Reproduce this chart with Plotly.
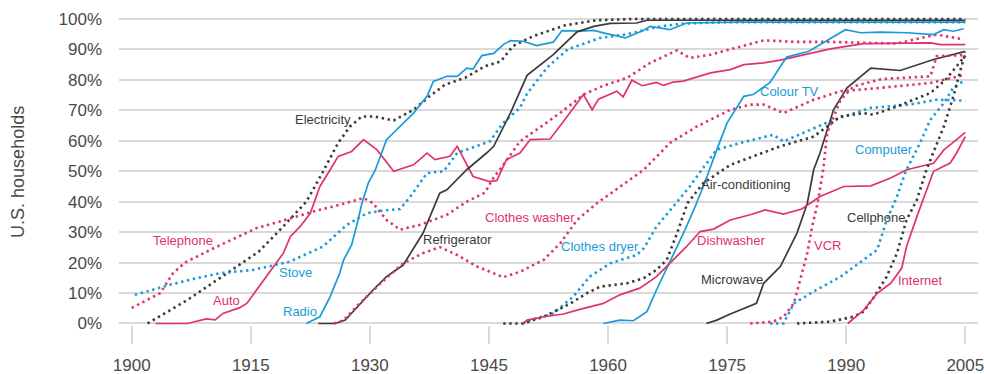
import plotly.graph_objects as go

# ---- adoption data: share of U.S. households (%) by year ----
electricity_years = [1902, 1907, 1912, 1916, 1918.7, 1921, 1922, 1924, 1926, 1927.5, 1929, 1930.5, 1933, 1935.5, 1937.5, 1939.5, 1942, 1944.5, 1946.5, 1948, 1950.5, 1954.5, 1958.5, 1963, 2005]
electricity_vals = [0, 7.7, 16.5, 23.6, 30.8, 37.3, 40, 49.4, 59.3, 64.7, 68, 68, 66.7, 70.2, 74.6, 78.5, 80.7, 84.5, 86.1, 91.1, 94.3, 97.9, 99.6, 100, 100]

telephone_years = [1900, 1903.6, 1905.2, 1906.7, 1910.3, 1915.7, 1918.7, 1922.9, 1926.2, 1929.2, 1930.4, 1932.1, 1933.8, 1936.3, 1939.7, 1942.2, 1944.5, 1945.6, 1946.5, 1948.9, 1951.9, 1954.4, 1956.9, 1959.4, 1962.4, 1965.3, 1968.7, 1970.3, 1972.9, 1976.7, 1979.6, 1983.8, 1988, 1992.2, 1996.4, 2001.4, 2004.8]
telephone_vals = [5.1, 10, 16.5, 20, 24.7, 31.3, 33.5, 36.8, 39, 41.2, 39.5, 34, 30.8, 32.4, 35.7, 40, 43, 48, 51, 59.8, 65.3, 70, 75.2, 78.1, 80.7, 85.6, 89.7, 87.2, 88.3, 91, 93, 92.5, 92.5, 92.2, 92, 94.9, 93.3]

auto_years = [1903, 1907, 1909.4, 1910.5, 1911.5, 1913.6, 1914.5, 1915.7, 1917, 1918.3, 1919.1, 1920, 1921.2, 1922.5, 1923.7, 1925, 1926, 1927.7, 1929.2, 1930.9, 1933, 1935.5, 1937.2, 1938.2, 1940.1, 1941, 1943, 1945.1, 1946, 1947.2, 1948.9, 1950.2, 1952.7, 1954.4, 1956.9, 1958, 1958.8, 1961.1, 1961.9, 1963, 1964.3, 1966.1, 1967, 1968.2, 1969.5, 1972.9, 1975.4, 1977.1, 1979.6, 1981.7, 1988, 1992.2, 2000.6, 2001.9, 2005]
auto_vals = [0, 0, 1.5, 1.2, 3.3, 5.2, 6.6, 11, 15.4, 20.3, 23.1, 28.6, 31.8, 36.2, 45, 50.5, 54.9, 56.5, 60.4, 57, 50, 52.1, 56, 53.8, 54.9, 58.2, 48.3, 46.6, 47, 53.8, 56, 60.4, 60.6, 66.4, 75.2, 70.2, 73.7, 76.3, 74.4, 79.9, 78.1, 79.2, 78.2, 79.3, 79.6, 82.3, 83.4, 85, 85.6, 86.5, 90.2, 91.9, 92.2, 91.6, 91.6]

stove_years = [1900.4, 1904.8, 1908.2, 1911.1, 1915.3, 1918.3, 1919.9, 1924.1, 1927.1, 1929.6, 1931.7, 1933.8, 1935.1, 1937.2, 1939.3, 1941, 1943.5, 1945.1, 1946.8, 1948.9, 1949.8, 1952.3, 1954.9, 1957, 1959, 1962.4, 1966.6, 1969.5, 1975, 2005]
stove_vals = [9.4, 12.7, 14.9, 16.5, 17.6, 19.2, 20.3, 25.3, 32.4, 36.2, 37.1, 37.6, 41.7, 49.4, 50, 56, 58.2, 59.8, 65.9, 70.8, 75.5, 84, 90, 92, 93.8, 95, 97.6, 98.5, 99, 99]

radio_years = [1922, 1923.7, 1925, 1926.2, 1926.7, 1927.7, 1928.3, 1929, 1929.8, 1930.7, 1932.1, 1933.4, 1935.5, 1937.2, 1938, 1939.7, 1941, 1942.2, 1943, 1944.1, 1945.6, 1946.8, 1947.7, 1949.3, 1951, 1953.1, 1954.2, 1956.5, 1958.2, 1959.8, 1962.2, 1964.5, 1965.3, 1967.8, 1969.9, 1976.7, 2005]
radio_vals = [0, 2.2, 8.8, 16.5, 20.9, 25.8, 31.8, 39.5, 46.1, 50.5, 60.4, 63.7, 69.1, 74.6, 79.5, 81.2, 81.2, 83.9, 83.6, 88, 88.7, 91.6, 92.9, 92.7, 91.3, 92.4, 96.2, 96, 96.3, 95.2, 93.8, 96.3, 97.6, 96.5, 98.7, 99, 99]

refrigerator_years = [1923.5, 1925.6, 1926.9, 1930.4, 1932.1, 1934.2, 1936.7, 1938.8, 1939.7, 1942.2, 1944.7, 1945.6, 1947.7, 1949.8, 1953.1, 1956.1, 1958.2, 1960.3, 1963.6, 1964.9, 2005]
refrigerator_vals = [0, 0, 1.1, 11, 15.4, 19.2, 29.7, 42.8, 43.9, 50.5, 56, 58.2, 69.1, 81.5, 88.3, 95.8, 97.6, 98.6, 98.7, 99.6, 99.6]

washer_years = [1925.5, 1926.7, 1928.3, 1930.9, 1934.2, 1936.7, 1938.8, 1941, 1943.5, 1946.8, 1948.9, 1951.9, 1954, 1956.1, 1958.6, 1961.5, 1964.5, 1967.8, 1971.2, 1975.4, 1977.9, 1979.6, 1982.1, 1985.9, 1989.3, 1994.3, 2000.6, 2005]
washer_vals = [0, 1.1, 5.5, 12.1, 19.8, 23.1, 25.1, 22.5, 18.7, 15.2, 17, 20.9, 26.4, 34, 39.5, 45, 50.5, 59.3, 64.7, 70.2, 71.9, 71.9, 69.1, 73.5, 76.3, 77.4, 79, 81.7]

dryer_years = [1949.3, 1949.8, 1953.1, 1955.6, 1957.7, 1960.3, 1963.6, 1964.5, 1966.1, 1968.2, 1970.3, 1971.8, 1973.7, 1976.7, 1980.8, 1982.1, 1988.4, 1993, 1998, 2001.4, 2005]
dryer_vals = [0, 0.8, 3.3, 8.8, 15.4, 19.8, 22.5, 24.7, 31.8, 38.4, 45, 50.5, 57.1, 59.3, 62, 59.8, 66.9, 70.8, 71.9, 73.5, 73.2]

colour_tv_years = [1959.4, 1961.5, 1963.2, 1964.9, 1966.1, 1967.8, 1969.5, 1970.8, 1972, 1973.7, 1975, 1977.1, 1978.3, 1980.4, 1982.5, 1985.3, 1987.6, 1989.9, 1991.8, 1994.3, 1997.6, 2001, 2002.3, 2003.5, 2004.8]
colour_tv_vals = [0, 1.1, 0.9, 3.9, 11, 20.3, 29.7, 37.3, 45, 57.1, 65.9, 74.6, 75.2, 79.2, 87.5, 89.4, 93, 96.5, 95.5, 95.7, 95.5, 94.9, 96.5, 96, 96.8]

aircon_years = [1946.8, 1949.3, 1951.9, 1955.3, 1957.3, 1959, 1962.4, 1964.5, 1966.1, 1967.4, 1968.7, 1970, 1972, 1974.5, 1975.4, 1981.7, 1985.9, 1989.3, 1992.2, 1993.4, 1996.4, 2000.6, 2002.5, 2005]
aircon_vals = [0, 0, 2.2, 6.6, 9.9, 12.1, 13.2, 14.9, 17.6, 20.9, 29.7, 39.5, 46.1, 50.5, 52.1, 58.2, 61.4, 68, 69.1, 68.6, 71.3, 75.7, 80, 88]

microwave_years = [1972.4, 1973.7, 1975.4, 1977.1, 1978.7, 1979.6, 1981.7, 1983.8, 1985.1, 1985.9, 1986.7, 1988.4, 1990.1, 1993.1, 1996.8, 2001, 2005]
microwave_vals = [0, 1.1, 3.1, 5, 6.6, 13.2, 18.7, 29.7, 39.5, 50.5, 56, 70.2, 77.4, 83.9, 83.1, 86.7, 89.4]

dishwasher_years = [1949.3, 1949.8, 1951.9, 1954.4, 1956.1, 1957.7, 1959.4, 1961.5, 1964, 1966.1, 1967.8, 1969.9, 1971.6, 1973.3, 1975.4, 1977.9, 1979.8, 1982.1, 1984.4, 1986.7, 1989.7, 1993.1, 1995.6, 1997.6, 2001, 2002.3, 2003.9, 2005]
dishwasher_vals = [0, 1.1, 2.2, 3.1, 4.4, 5.5, 6.6, 9.4, 11.6, 15.4, 19.8, 25.3, 30.2, 31, 34, 35.7, 37.3, 35.9, 37.6, 41.7, 45, 45.2, 47.8, 50.5, 52.6, 57, 60.4, 62.8]

vcr_years = [1977.9, 1980.8, 1982.1, 1983.4, 1984.2, 1985.1, 1985.7, 1986.4, 1987.1, 1987.6, 1989.3, 1990.9, 1994.5, 1997.6, 2000.6, 2001.4, 2005]
vcr_vals = [0, 0.6, 2.2, 6.6, 14.3, 23.1, 31.8, 39.5, 50.5, 62.6, 73.5, 77.9, 80.3, 80.7, 81.2, 87.8, 88.2]

computer_years = [1980.4, 1982.1, 1983.4, 1985.9, 1989.3, 1992.2, 1993.9, 1995.1, 1996.4, 1997.5, 1998.5, 1999.3, 2000.6, 2002.3, 2003.5, 2004.4, 2005]
computer_vals = [0, 0, 6.6, 10.5, 15.4, 20.9, 24.2, 34, 41.7, 50, 54.9, 59.3, 66.9, 72.4, 77.5, 79, 80]

cellphone_years = [1983.8, 1988, 1990.9, 1992.2, 1993.4, 1995.1, 1996.4, 1997.6, 1998.9, 2000.1, 2002.3, 2003.5, 2005]
cellphone_vals = [0, 0.6, 2.2, 3.9, 8.3, 15.4, 23.1, 34, 40.6, 50.5, 64.7, 74.6, 89]

internet_years = [1990.2, 1992.2, 1993.9, 1995.6, 1997, 1997.6, 1998.9, 2001, 2003.1, 2003.9, 2005]
internet_vals = [0, 4.4, 9.9, 13.2, 18.2, 25.3, 35.1, 50, 52.7, 56, 61.4]

x_ticks = [1900, 1915, 1930, 1945, 1960, 1975, 1990, 2005]
y_ticks = [0, 10, 20, 30, 40, 50, 60, 70, 80, 90, 100]
y_tick_labels = ["0%", "10%", "20%", "30%", "40%", "50%", "60%", "70%", "80%", "90%", "100%"]

# ---- styling ----
RED = "#e0336b"
BLUE = "#1a9bd7"
DARK = "#3b3b3b"
GRID = "#d9d9d9"
TEXT = "#4a4a4a"
FONT = "Liberation Sans, Arial, sans-serif"

series = [
    # name, years, values, colour, dotted, label position (year, %)
    ("Electricity", electricity_years, electricity_vals, DARK, True, (1924.1, 66.9)),
    ("Telephone", telephone_years, telephone_vals, RED, True, (1906.5, 27.1)),
    ("Auto", auto_years, auto_vals, RED, False, (1911.9, 7.7)),
    ("Stove", stove_years, stove_vals, BLUE, True, (1920.6, 16.9)),
    ("Radio", radio_years, radio_vals, BLUE, False, (1921.2, 4.1)),
    ("Refrigerator", refrigerator_years, refrigerator_vals, DARK, False, (1941.0, 27.5)),
    ("Clothes washer", washer_years, washer_vals, RED, True, (1950.2, 34.7)),
    ("Clothes dryer", dryer_years, dryer_vals, BLUE, True, (1959.0, 25.2)),
    ("Colour TV", colour_tv_years, colour_tv_vals, BLUE, False, (1982.8, 76.2)),
    ("Air-conditioning", aircon_years, aircon_vals, DARK, True, (1977.4, 45.6)),
    ("Microwave", microwave_years, microwave_vals, DARK, False, (1975.6, 14.6)),
    ("Dishwasher", dishwasher_years, dishwasher_vals, RED, False, (1975.6, 27.1)),
    ("VCR", vcr_years, vcr_vals, RED, True, (1987.6, 25.5)),
    ("Computer", computer_years, computer_vals, BLUE, True, (1994.7, 57.1)),
    ("Cellphone", cellphone_years, cellphone_vals, DARK, True, (1993.8, 34.7)),
    ("Internet", internet_years, internet_vals, RED, False, (1999.3, 14.0)),
]

fig = go.Figure()
annotations = []
for name, xs, ys, colour, dotted, (lx, ly) in series:
    fig.add_trace(go.Scatter(
        x=xs, y=ys, mode="lines", name=name, hoverinfo="x+y+name",
        line=dict(color=colour, width=2.6 if dotted else 1.7,
                  dash="2.4px,3.6px" if dotted else "solid"),
    ))
    annotations.append(dict(
        x=lx, y=ly, xref="x", yref="y", text=name, showarrow=False,
        font=dict(family=FONT, size=13, color=colour),
        xanchor="center", yanchor="middle",
    ))

annotations.append(dict(
    x=-0.117, y=0.497, xref="paper", yref="paper", text="U.S. households",
    showarrow=False, textangle=-90, font=dict(family=FONT, size=18, color=TEXT),
    xanchor="center", yanchor="middle",
))

fig.update_layout(
    width=984, height=374,
    margin=dict(l=119, r=6, t=16, b=49, autoexpand=False),
    paper_bgcolor="white", plot_bgcolor="white",
    showlegend=False,
    font=dict(family=FONT, color=TEXT),
    annotations=annotations,
    xaxis=dict(
        range=[1898.4, 2006.6], tickvals=x_ticks, ticks="outside", ticklen=18,
        tickwidth=2, tickcolor=GRID, showgrid=False, zeroline=False, showline=False,
        tickfont=dict(family=FONT, size=17, color=TEXT), ticklabelstandoff=7,
        automargin=False, ticklabeloverflow="allow",
    ),
    yaxis=dict(
        range=[-0.5, 101], tickvals=y_ticks, ticktext=y_tick_labels, showgrid=True,
        gridcolor=GRID, gridwidth=2, zeroline=False, showline=False, ticks="",
        tickfont=dict(family=FONT, size=17, color=TEXT), ticklabelstandoff=16,
        automargin=False,
    ),
)

fig.write_html("out.html")
